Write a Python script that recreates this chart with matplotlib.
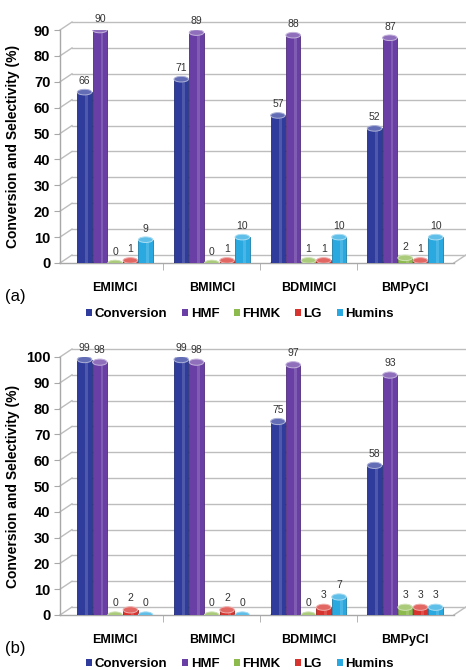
import matplotlib
matplotlib.use("Agg")
import matplotlib.pyplot as plt
import matplotlib.transforms as mtransforms
from matplotlib.patches import Ellipse, Rectangle, Patch
import numpy as np

plt.rcParams['font.family'] = ['Liberation Sans', 'DejaVu Sans']

categories = ["EMIMCl", "BMIMCl", "BDMIMCl", "BMPyCl"]
series_names = ["Conversion", "HMF", "FHMK", "LG", "Humins"]
colors = ["#2F3C9C", "#6A3FA5", "#8DBA4C", "#D8342F", "#29A9E0"]

# panel (a)
a_conversion = [66, 71, 57, 52]
a_hmf = [90, 89, 88, 87]
a_fhmk = [0, 0, 1, 2]
a_lg = [1, 1, 1, 1]
a_humins = [9, 10, 10, 10]

# panel (b)
b_conversion = [99, 99, 75, 58]
b_hmf = [98, 98, 97, 93]
b_fhmk = [0, 0, 0, 3]
b_lg = [2, 2, 3, 3]
b_humins = [0, 0, 7, 3]

a_ticks = list(range(0, 91, 10))
b_ticks = list(range(0, 101, 10))

W, H = 466, 670
fig = plt.figure(figsize=(W / 100, H / 100), dpi=100)


def lighten(c, f):
    c = np.array(matplotlib.colors.to_rgb(c))
    return tuple(c + (1 - c) * f)


def darken(c, f):
    c = np.array(matplotlib.colors.to_rgb(c))
    return tuple(c * (1 - f))


def draw_panel(rect_px, series, ticks, ymax, panel_label, label_y_px, legend_y_px):
    x0, ytop, x1, ybot = rect_px
    ax = fig.add_axes([x0 / W, (H - ybot) / H, (x1 - x0) / W, (ybot - ytop) / H])
    ax.set_ylim(0, ymax)
    ax.set_xlim(-0.57, 3.63)
    for s in ax.spines.values():
        s.set_visible(False)
    ax.patch.set_alpha(0)

    # 3D back wall offset
    off = mtransforms.ScaledTranslation(12 / 100, 8 / 100, fig.dpi_scale_trans)
    blend = mtransforms.blended_transform_factory(ax.transAxes, ax.transData)
    for t in ticks:
        ax.plot([0, 1.05], [t, t], transform=blend + off, color="#BDBDBD", lw=1.0,
                clip_on=False, zorder=0)
        p0 = blend.transform((0, t))
        p1 = (blend + off).transform((0, t))
        fig.add_artist(matplotlib.lines.Line2D([p0[0] / W, p1[0] / W], [p0[1] / H, p1[1] / H],
                                               color="#BDBDBD", lw=1.0, zorder=0))
    # left front vertical line
    ax.plot([0, 0], [0, ymax], transform=blend, color="#A8A8A8", lw=1.0, clip_on=False, zorder=1)
    # floor front edge
    ax.plot([0, 0.97], [0, 0], transform=blend, color="#A8A8A8", lw=1.0, clip_on=False, zorder=1)
    p0 = blend.transform((0.97, 0))
    p1 = (blend + off).transform((0.97, 0))
    fig.add_artist(matplotlib.lines.Line2D([p0[0] / W, p1[0] / W], [p0[1] / H, p1[1] / H],
                                           color="#BDBDBD", lw=1.0, zorder=0))

    nb = len(series)
    bw = 0.15
    step = 0.158
    x = np.arange(len(categories))
    cap_h = ymax * 0.024
    for i, vals in enumerate(series):
        xs = x + (i - (nb - 1) / 2) * step
        col = colors[i]
        for xv, v in zip(xs, vals):
            if v > 0:
                ax.add_patch(Rectangle((xv - bw / 2, 0), bw, v, facecolor=col,
                                       edgecolor=darken(col, 0.25), lw=0.6, zorder=3))
                ax.add_patch(Rectangle((xv - bw / 2 + bw * 0.55, 0), bw * 0.2, v,
                                       facecolor=lighten(col, 0.15), edgecolor="none", zorder=3))
            ax.add_patch(Ellipse((xv, 0), bw, cap_h, facecolor=darken(col, 0.1),
                                 edgecolor="none", zorder=2))
            ax.add_patch(Ellipse((xv, v), bw, cap_h, facecolor=lighten(col, 0.25),
                                 edgecolor=lighten(col, 0.6), lw=0.7, zorder=4))
            ax.text(xv, v + cap_h * 0.6 + ymax * 0.012, str(v), ha="center", va="bottom",
                    fontsize=7.5, color="#333333", zorder=5)

    ax.set_yticks(ticks)
    ax.set_yticklabels([str(t) for t in ticks], fontsize=10.5, fontweight="bold")
    ax.tick_params(axis="y", length=4, color="#A8A8A8", pad=3)
    ax.set_xticks(x)
    ax.set_xticklabels(categories, fontsize=9, fontweight="bold")
    ax.tick_params(axis="x", length=0, pad=14)
    ax.set_xticks([0.5, 1.5, 2.5], minor=True)
    ax.tick_params(axis="x", which="minor", length=5, color="#A8A8A8")
    ax.set_ylabel("Conversion and Selectivity (%)", fontsize=10, fontweight="bold")
    ax.yaxis.set_label_coords(-40 / (x1 - x0), 0.5)

    fig.text(5 / W, 1 - label_y_px / H, panel_label, fontsize=12, ha="left", va="center")
    handles = [Patch(facecolor=c, edgecolor="none", label=n) for c, n in zip(colors, series_names)]
    fig.legend(handles=handles, loc="center", bbox_to_anchor=(240 / W, 1 - legend_y_px / H),
               ncol=5, frameon=False, prop={"weight": "bold", "size": 9.5},
               handlelength=0.45, handleheight=0.45, handletextpad=0.2, columnspacing=1.1)
    return ax


draw_panel((60, 30, 466, 263), [a_conversion, a_hmf, a_fhmk, a_lg, a_humins], a_ticks, 90,
           "(a)", 296, 314)
draw_panel((60, 357, 466, 615), [b_conversion, b_hmf, b_fhmk, b_lg, b_humins], b_ticks, 100,
           "(b)", 648, 664)

fig.savefig("out.png", dpi=100)
